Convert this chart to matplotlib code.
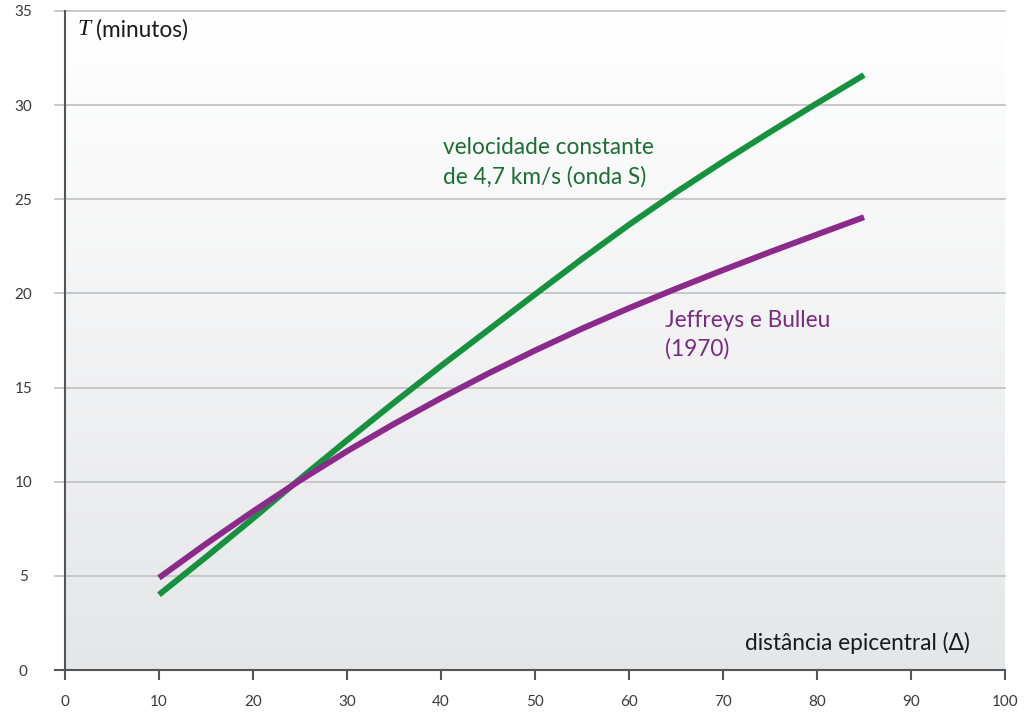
import numpy as np
import matplotlib
matplotlib.use("Agg")
import matplotlib.pyplot as plt
from matplotlib.colors import LinearSegmentedColormap

# ---- data ----
distance = [10, 15, 20, 25, 30, 35, 40, 45, 50, 55, 60, 65, 70, 75, 80, 85]
t_constant = [4.0, 6.0, 8.05, 10.15, 12.2, 14.2, 16.15, 18.05, 19.95, 21.83, 23.65, 25.37, 27.0, 28.57, 30.1, 31.6]
t_jeffreys = [4.9, 6.7, 8.42, 10.07, 11.62, 13.07, 14.44, 15.74, 16.97, 18.13, 19.22, 20.25, 21.24, 22.2, 23.13, 24.05]
x_ticks = [0, 10, 20, 30, 40, 50, 60, 70, 80, 90, 100]
y_ticks = [0, 5, 10, 15, 20, 25, 30, 35]
label_constant = "velocidade constante\nde 4,7 km/s (onda S)"
label_jeffreys = "Jeffreys e Bulleu\n(1970)"
y_title = "(minutos)"
x_title = "distância epicentral (Δ)"

GREEN = "#16923f"
PURPLE = "#8c2a8c"
GREEN_TXT = "#1c6e36"
PURPLE_TXT = "#7a2a80"
FONT = "Lato"
FS = 16.3

fig = plt.figure(figsize=(10.24, 7.24), dpi=100)
ax = fig.add_axes([65/1024, 1-670/724, 940/1024, 659/724])
ax.set_xlim(0, 100)
ax.set_ylim(0, 35)

# gradient background
grad = np.linspace(1, 0, 256).reshape(-1, 1)
cmap = LinearSegmentedColormap.from_list("bg", ["#e5e6e8", "#ffffff"])
ax.imshow(grad, extent=[0, 100, 0, 35], aspect="auto", cmap=cmap, origin="upper", zorder=0)

for y in y_ticks[1:]:
    ax.plot([-1.1, 100], [y, y], color="#c4c4c4", lw=1.3, zorder=1, clip_on=False)

ax.plot(distance, t_constant, color=GREEN, lw=4.3, solid_capstyle="butt",
        solid_joinstyle="round", zorder=3)
ax.plot(distance, t_jeffreys, color=PURPLE, lw=4.3, solid_capstyle="butt",
        solid_joinstyle="round", zorder=3)

for s in ["top", "right"]:
    ax.spines[s].set_visible(False)
ax.spines["left"].set_color("#555555")
ax.spines["left"].set_linewidth(1.5)
ax.spines["bottom"].set_color("#555555")
ax.spines["bottom"].set_linewidth(1.5)
ax.plot([-1.1, 0], [0, 0], color="#555555", lw=1.5, clip_on=False, zorder=4)

ax.set_xticks(x_ticks)
ax.set_xticklabels([str(v) for v in x_ticks])
ax.set_yticks(y_ticks)
ax.set_yticklabels([str(v) for v in y_ticks])
ax.tick_params(axis="x", direction="out", length=7.2, width=1.5, color="#555555",
               pad=11, labelsize=11, labelcolor="#3a3a3a")
ax.tick_params(axis="y", length=0, pad=30, labelsize=11, labelcolor="#3a3a3a")
for lab in ax.get_yticklabels():
    lab.set_horizontalalignment("center")
for lab in ax.get_xticklabels() + ax.get_yticklabels():
    lab.set_fontfamily(FONT)

ax.text(1.35, 34.0, "T", fontfamily="Liberation Serif", fontstyle="italic",
        fontsize=17, va="center", ha="left", color="#1a1a1a")
ax.text(3.3, 34.0, y_title, fontfamily=FONT, fontsize=FS, va="center", ha="left", color="#1a1a1a")

ax.text(40.2, 26.95, label_constant, fontfamily=FONT, fontsize=FS, color=GREEN_TXT,
        va="center", ha="left", linespacing=1.45)
ax.text(63.8, 17.8, label_jeffreys, fontfamily=FONT, fontsize=FS, color=PURPLE_TXT,
        va="center", ha="left", linespacing=1.45)
ax.text(96.3, 1.43, x_title, fontfamily=FONT, fontsize=FS, color="#1a1a1a",
        va="center", ha="right")

fig.savefig("out.png", dpi=100)
